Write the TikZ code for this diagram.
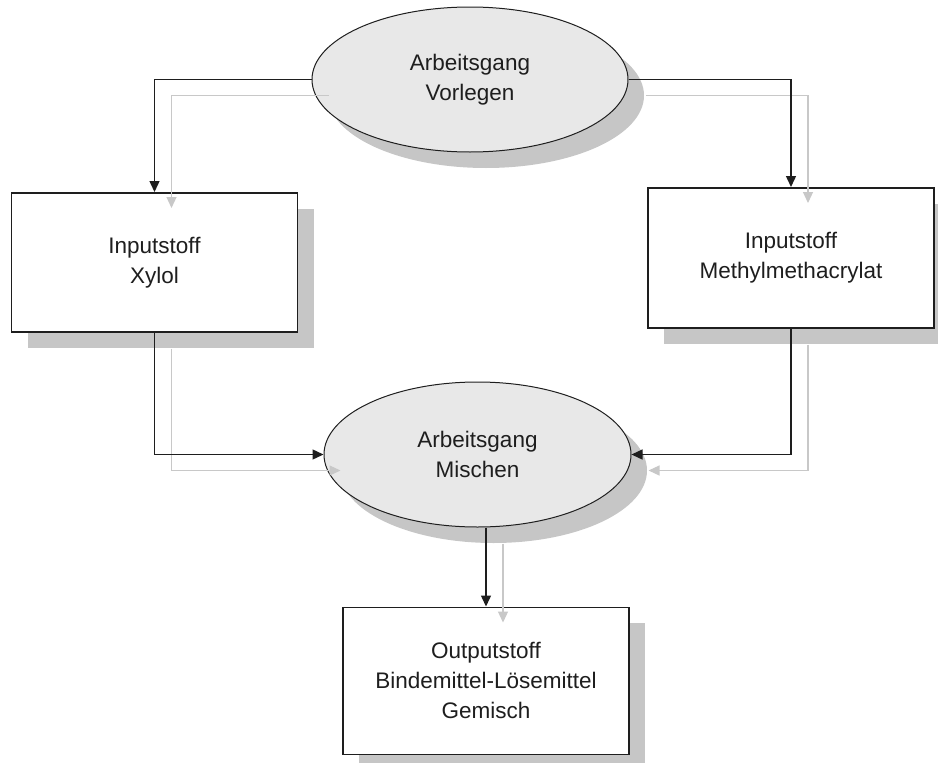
\documentclass[tikz,border=0pt]{standalone}
\usepackage{fontspec}
\setmainfont{Liberation Sans}
\usetikzlibrary{positioning,arrows.meta,shapes.geometric,shadows}
\definecolor{ink}{HTML}{1E1E1E}
\definecolor{paper}{HTML}{FFFFFF}
\definecolor{cfill}{HTML}{E8E8E8}
\definecolor{cshade}{HTML}{C6C6C6}
\definecolor{clight}{HTML}{C8C8C8}
\tikzset{
  base/.style={draw=ink, align=center, inner sep=0pt, text=ink, font=\fontsize{22.5}{30}\selectfont,
    drop shadow={shadow xshift=16pt, shadow yshift=-16pt, fill=cshade, opacity=1}},
  proc/.style={base, ellipse, fill=cfill, line width=1pt, minimum height=145pt},
  stoff/.style={base, rectangle, fill=paper, line width=1.6pt, minimum width=286pt},
  arr/.style={-{Triangle[length=11pt,width=10pt]}},
}

\begin{document}
\begin{tikzpicture}
\useasboundingbox (0,0) rectangle (938pt,-763pt);

% ---------------- process steps ----------------
\node[proc, minimum width=316pt] (vor) at (470pt,-79.5pt) {Arbeitsgang\\Vorlegen};
\node[proc, minimum width=307pt, below=229pt of vor, xshift=7.5pt] (mis) {Arbeitsgang\\Mischen};

% ---------------- materials ----------------
\node[stoff, minimum height=139pt, below=112.5pt of vor.west, xshift=-157pt] (xyl) {Inputstoff\\Xylol};
\node[stoff, minimum height=140pt, below=107.5pt of vor.east, xshift=162.5pt] (mma) {Inputstoff\\Methylmethacrylat};
\node[stoff, minimum height=147pt, below=79pt of mis, xshift=8.5pt] (out) {Outputstoff\\Bindemittel-Lösemittel\\Gemisch};

% ---------------- flows (grey copy first, then black) ----------------
\foreach \c/\w/\dx/\dy in {clight/1.2/17/-16, ink/1.4/0/0} {
  \begin{scope}[transform canvas={shift={(\dx pt,\dy pt)}}]
    \draw[arr, draw=\c, line width=\w pt] (vor.west) -| (xyl.north);
    \draw[arr, draw=\c, line width=\w pt] (vor.east) -| (mma.north);
    \draw[arr, draw=\c, line width=\w pt] (xyl.south) |- (mis.west);
    \draw[arr, draw=\c, line width=\w pt] (mma.south) |- (mis.east);
    \draw[arr, draw=\c, line width=\w pt] (out.north |- mis.south) -- (out.north);
  \end{scope}
}

\end{tikzpicture}
\end{document}
